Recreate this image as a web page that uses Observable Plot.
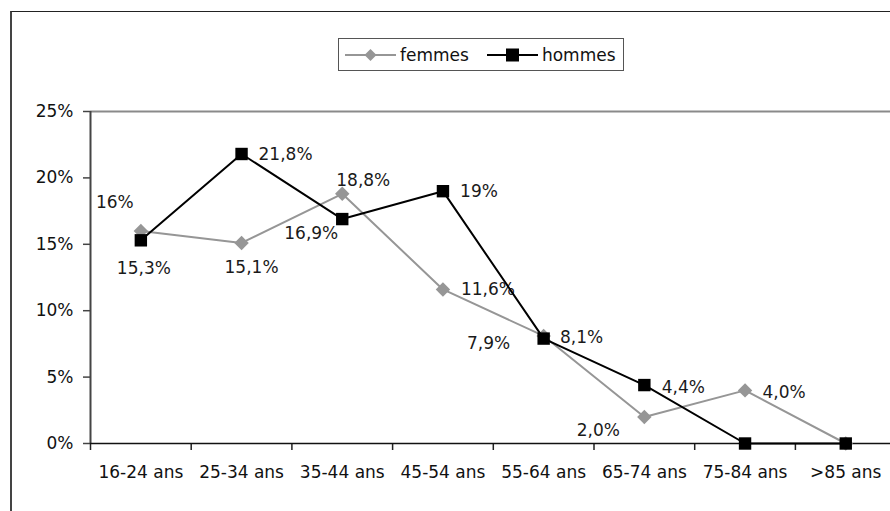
<!DOCTYPE html>
<html>
<head>
<meta charset="utf-8">
<script src="https://cdn.jsdelivr.net/npm/d3@7"></script>
<script src="https://cdn.jsdelivr.net/npm/@observablehq/plot@0.6"></script>
<style>
  html, body { margin: 0; padding: 0; background: #fff; overflow: hidden; }
  #wrap { position: relative; width: 890px; height: 511px; font-family: "DejaVu Sans", sans-serif; }
  #frame { position: absolute; left: 10px; top: 11px; width: 900px; height: 520px;
           border-top: 1px solid #222; border-left: 2px solid #444; pointer-events: none; z-index: 2; }
  #chart { position: absolute; left: 0; top: 0; z-index: 1; }
  #legend { position: absolute; left: 338px; top: 38px; width: 284px; height: 31px;
            border: 1px solid #555; background: #fff; z-index: 3;
            display: flex; align-items: center; font-size: 17px; color: #111; }
  #legend svg { display: block; }
</style>
</head>
<body>
<div id="wrap">
  <div id="chart"></div>
  <div id="frame"></div>
  <div id="legend"></div>
</div>
<script>
// Age groups on the x axis
const categories = ["16-24 ans", "25-34 ans", "35-44 ans", "45-54 ans", "55-64 ans", "65-74 ans", "75-84 ans", ">85 ans"];
// Share of each age group, in percent
const femmes = [16, 15.1, 18.8, 11.6, 8.1, 2.0, 4.0, 0];
const hommes = [15.3, 21.8, 16.9, 19, 7.9, 4.4, 0, 0];
// Decimals shown in each value label (null: no label)
const femmesDecimals = [0, 1, 1, 1, 1, 1, 1, null];
const hommesDecimals = [1, 1, 1, 0, 1, 1, null, null];
// Y axis ticks, in percent
const yTicks = [0, 5, 10, 15, 20, 25];

// Label placement around each point (pixels)
const femmesLabelOffsets = [[-26, -28], [10, 25], [21, -13], [45, 0], [38, 2], [-46, 14], [39, 2], null];
const hommesLabelOffsets = [[3, 28], [44, 1], [-31, 14], [36, 0], [-55, 5], [39, 2], null, null];

const series = [
  {name: "femmes", values: femmes, decimals: femmesDecimals, offsets: femmesLabelOffsets,
   color: "#969696", symbol: "diamond2", r: 6.5},
  {name: "hommes", values: hommes, decimals: hommesDecimals, offsets: hommesLabelOffsets,
   color: "#000000", symbol: "square", r: 7}
];

const fmt = (v, d) => v.toFixed(d).replace(".", ",") + "%";
const boundaries = d3.range(categories.length + 1).map(i => i - 0.5);

const marks = [
  Plot.ruleY([25], {stroke: "#8a8a8a", strokeWidth: 2}),
  Plot.ruleX([-0.5], {y1: 0, y2: 25, stroke: "#444", strokeWidth: 2}),
  Plot.axisY(yTicks, {tickFormat: d => d + "%", tickSize: 7, tickPadding: 10, stroke: "#444",
                      strokeWidth: 1.5, label: null, fontSize: 17, fill: "#111"}),
  Plot.axisX(boundaries, {tickSize: 7, tickFormat: () => "", stroke: "#222", strokeWidth: 1.5, label: null}),
  Plot.axisX(d3.range(categories.length), {tickSize: 0, tickPadding: 22, tickFormat: i => categories[i],
                                            label: null, fontSize: 17, fill: "#111"}),
  Plot.ruleY([0], {stroke: "#111", strokeWidth: 1.5})
];

for (const s of series) {
  const rows = s.values.map((v, i) => ({i, v, d: s.decimals[i], o: s.offsets[i]}));
  marks.push(Plot.line(rows, {x: "i", y: "v", stroke: s.color, strokeWidth: 2}));
  marks.push(Plot.dot(rows, {x: "i", y: "v", symbol: s.symbol, r: s.r, fill: s.color, stroke: "none"}));
  for (const row of rows) {
    if (row.d == null) continue;
    marks.push(Plot.text([row], {x: "i", y: "v", text: r => fmt(r.v, r.d),
      dx: row.o[0], dy: row.o[1], fontSize: 17, fill: "#1a1a1a"}));
  }
}

const chart = Plot.plot({
  width: 890,
  height: 511,
  marginLeft: 90,
  marginRight: 0,
  marginTop: 111,
  marginBottom: 68,
  style: {fontFamily: "DejaVu Sans, sans-serif", fontSize: "17px", background: "transparent", overflow: "visible"},
  x: {domain: [-0.5, 7.5], range: [90, 895.6]},
  y: {domain: [0, 25], range: [443, 111]},
  marks
});
document.getElementById("chart").appendChild(chart);

// Legend: line + marker swatch followed by the series name
const legend = d3.select("#legend");
series.forEach((s, k) => {
  const sw = legend.append("svg").attr("width", 51).attr("height", 16)
    .style("margin-left", k === 0 ? "6px" : "18px");
  sw.append("line").attr("x1", 0).attr("x2", 51).attr("y1", 8).attr("y2", 8)
    .attr("stroke", s.color).attr("stroke-width", 2);
  if (s.symbol === "square") {
    sw.append("rect").attr("x", 19).attr("y", 1.5).attr("width", 13).attr("height", 13).attr("fill", s.color);
  } else {
    sw.append("path").attr("d", "M25.5,2L31.5,8L25.5,14L19.5,8Z").attr("fill", s.color);
  }
  legend.append("span").text(s.name).style("margin-left", "4px");
});
</script>
</body>
</html>
